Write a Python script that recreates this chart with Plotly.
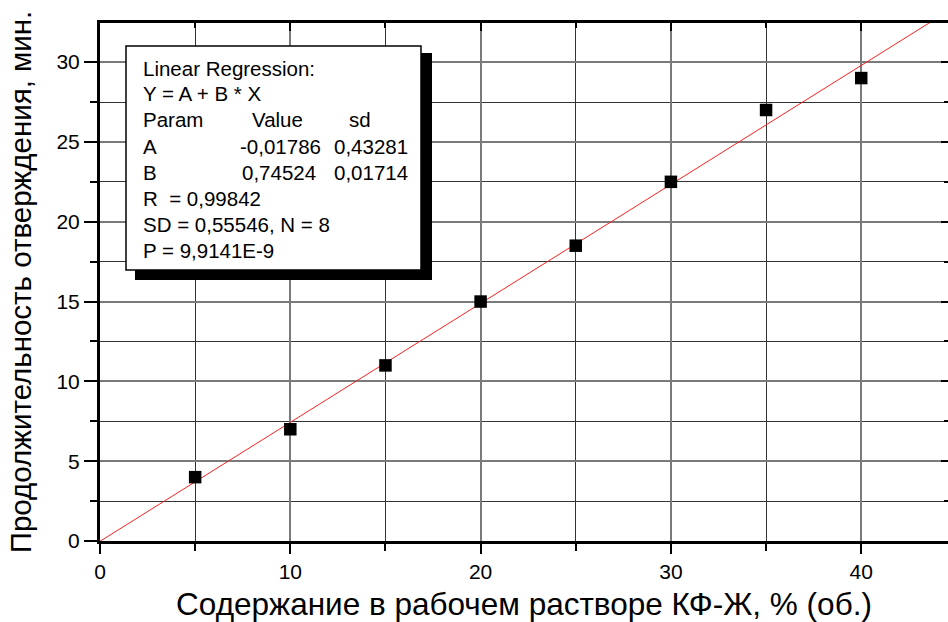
import plotly.graph_objects as go

# Measured curing time vs. KF-Zh concentration
conc = [5, 10, 15, 20, 25, 30, 35, 40]
cure_time = [4.0, 7.0, 11.0, 15.0, 18.5, 22.5, 27.0, 29.0]

# Linear fit coefficients reported in the box
A_coef = -0.01786
B_coef = 0.74524

x_range = [0, 44.56]
y_range = [0, 32.45]

fit_x = [x_range[0], x_range[1]]
fit_y = [A_coef + B_coef * v for v in fit_x]

box_lines = [
    "Linear Regression:",
    "Y = A + B * X",
    "Param",
    "A",
    "B",
    "R  = 0,99842",
    "SD = 0,55546, N = 8",
    "P = 9,9141E-9",
]
value_col = ["Value", "-0,01786", "0,74524"]
sd_col = ["sd", "0,43281", "0,01714"]

FONT = "Arial, Liberation Sans, sans-serif"
W, H = 948, 622
L, R, T, B = 100, 0, 23, 81
pw, ph = W - L - R, H - T - B


def px(xp):
    return (xp - L) / pw


def py(yp):
    return (H - B - yp) / ph


fig = go.Figure()

fig.add_trace(go.Scatter(
    x=fit_x, y=fit_y, mode="lines",
    line=dict(color="#ff2020", width=1), hoverinfo="skip", cliponaxis=True,
))
fig.add_trace(go.Scatter(
    x=conc, y=cure_time, mode="markers",
    marker=dict(symbol="square", size=12.5, color="black"),
))
# helper trace carrying the top/right mirror axes
fig.add_trace(go.Scatter(
    x=conc, y=cure_time, mode="markers", xaxis="x2", yaxis="y2",
    marker=dict(opacity=0), hoverinfo="skip",
))

axis_common = dict(
    showline=True, linecolor="black", linewidth=3,
    ticks="outside", tickwidth=2, tickcolor="black",
    showgrid=True, gridcolor="#7a7a7a", gridwidth=1.5,
    zeroline=False,
    tickfont=dict(family=FONT, size=21, color="black"),
)

fig.update_layout(
    width=W, height=H,
    margin=dict(l=L, r=R, t=T, b=B),
    paper_bgcolor="white", plot_bgcolor="white",
    showlegend=False,
    xaxis=dict(
        range=x_range, dtick=10, tick0=0, ticklen=10,
        minor=dict(dtick=5, ticklen=7, tickwidth=2, tickcolor="black",
                   showgrid=True, gridcolor="#333333", gridwidth=1),
        title=dict(text="Содержание в рабочем растворе КФ-Ж, % (об.)",
                   font=dict(family=FONT, size=31.5, color="black"), standoff=13),
        **axis_common,
    ),
    yaxis=dict(
        range=y_range, dtick=5, tick0=0, ticklen=13,
        minor=dict(dtick=2.5, ticklen=7, tickwidth=2, tickcolor="black",
                   showgrid=True, gridcolor="#333333", gridwidth=1),
        title=dict(text="Продолжительность отверждения, мин.",
                   font=dict(family=FONT, size=29.5, color="black"), standoff=17),
        **axis_common,
    ),
    xaxis2=dict(
        overlaying="x", side="top", matches="x", range=x_range,
        dtick=10, tick0=0, ticks="inside", ticklen=8, tickwidth=2,
        tickcolor="black", showline=True, linecolor="black", linewidth=3,
        minor=dict(dtick=5, ticklen=5, tickwidth=2, tickcolor="black", ticks="inside"),
        showticklabels=False, showgrid=False, zeroline=False,
    ),
    yaxis2=dict(
        overlaying="y", side="right", matches="y", range=y_range,
        dtick=5, tick0=0, ticks="inside", ticklen=7, tickwidth=2,
        tickcolor="black", showline=False,
        minor=dict(dtick=2.5, ticklen=4, tickwidth=2, tickcolor="black", ticks="inside"),
        showticklabels=False, showgrid=False, zeroline=False,
    ),
)

# regression box with drop shadow
fig.add_shape(type="rect", xref="paper", yref="paper",
              x0=px(135), x1=px(432), y0=py(280), y1=py(53),
              fillcolor="black", line=dict(width=0), layer="above")
fig.add_shape(type="rect", xref="paper", yref="paper",
              x0=px(126), x1=px(421), y0=py(270), y1=py(46),
              fillcolor="white", line=dict(color="black", width=1.5), layer="above")

BOX_FONT = dict(family=FONT, size=20.5, color="black")
row_y = [68, 94, 120, 146, 172, 198, 224, 250]
for text, yy in zip(box_lines, row_y):
    fig.add_annotation(xref="paper", yref="paper", x=px(141), y=py(yy),
                       text=text, showarrow=False, xanchor="left", yanchor="middle",
                       font=BOX_FONT)
for text, yy, xx in zip(value_col, row_y[2:5], [250, 238, 240]):
    fig.add_annotation(xref="paper", yref="paper", x=px(xx), y=py(yy),
                       text=text, showarrow=False, xanchor="left", yanchor="middle",
                       font=BOX_FONT)
for text, yy, xx in zip(sd_col, row_y[2:5], [347, 332, 332]):
    fig.add_annotation(xref="paper", yref="paper", x=px(xx), y=py(yy),
                       text=text, showarrow=False, xanchor="left", yanchor="middle",
                       font=BOX_FONT)

fig.write_html("out.html")
